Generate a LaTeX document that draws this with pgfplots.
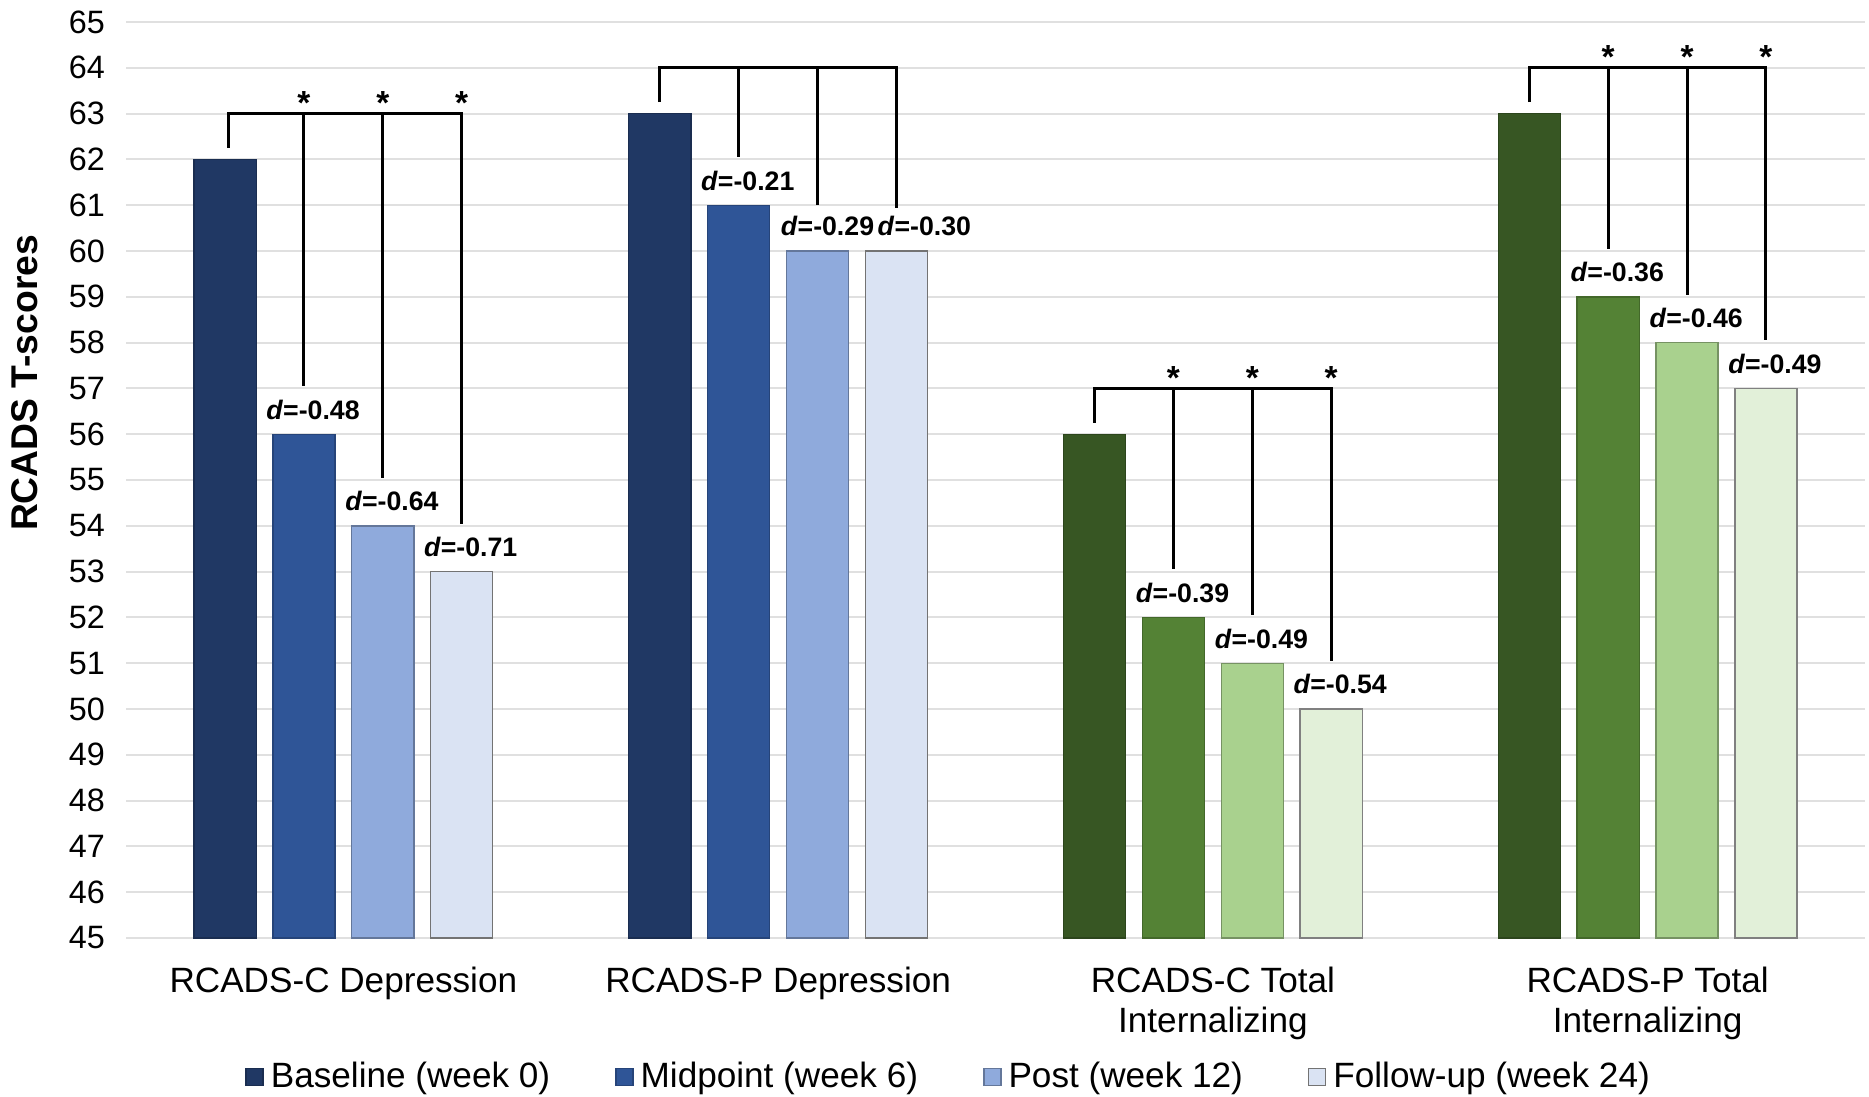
\documentclass[border=0pt]{standalone}
\usepackage{pgfplots}
\pgfplotsset{compat=1.18}
\usepackage{fontspec}
\setmainfont{Liberation Sans}
\definecolor{b1}{HTML}{203864}
\definecolor{b2}{HTML}{2F5597}
\definecolor{b3}{HTML}{8FAADC}
\definecolor{b4}{HTML}{DAE3F3}
\definecolor{g1}{HTML}{375623}
\definecolor{g2}{HTML}{548235}
\definecolor{g3}{HTML}{A9D18E}
\definecolor{g4}{HTML}{E2F0D9}
\tikzset{
  br/.style={line width=0.85pt, black},
  dl/.style={font=\bfseries\fontsize{7.6}{9}\selectfont, inner sep=0pt, anchor=base west},
  st/.style={font=\bfseries\fontsize{9.5}{11}\selectfont, inner sep=0pt, anchor=base},
}
\begin{document}
\begin{tikzpicture}
\useasboundingbox (-1.26cm,-1.58cm) rectangle (17.43cm,9.38cm);
\begin{axis}[
  width=17.39cm, height=9.16cm, scale only axis,
  xmin=-0.5, xmax=3.5, ymin=45, ymax=65,
  ytick={45,46,...,65},
  xtick={0,1,2,3},
  xticklabels={RCADS-C Depression, RCADS-P Depression, {RCADS-C Total\\Internalizing}, {RCADS-P Total\\Internalizing}},
  xticklabel style={align=center, font=\fontsize{10}{11.4}\selectfont, yshift=-4.7pt},
  yticklabel style={font=\fontsize{9.2}{11}\selectfont, xshift=-2.5pt},
  /pgf/number format/assume math mode=true,
  major tick length=0pt,
  axis lines*=left, axis line style={draw=none},
  ymajorgrids, grid style={color=black!12, line width=0.6pt},
  ylabel={\textbf{RCADS T-scores}},
  ylabel style={font=\fontsize{10.6}{13}\selectfont, at={(axis description cs:-0.058,0.606)}, anchor=center},
  legend columns=4,
  legend style={draw=none, fill=none, at={(0.4745,-0.152)}, anchor=center,
    font=\fontsize{10}{12}\selectfont,
    /tikz/every even column/.append style={column sep=0.58cm}},
  legend image code/.code={\draw[#1] (0cm,-0.085cm) rectangle (0.17cm,0.085cm);},
]
% blue series (groups 0 and 1)
\addplot[ybar, bar shift=0pt, bar width=0.143, fill=b1, draw=b1!80!black, line width=0.4pt]
  coordinates {(-0.272,62) (0.728,63)};
\addlegendentry{Baseline (week 0)}
\addplot[ybar, bar shift=0pt, bar width=0.143, fill=b2, draw=b2!80!black, line width=0.4pt]
  coordinates {(-0.0907,56) (0.9093,61)};
\addlegendentry{Midpoint (week 6)}
\addplot[ybar, bar shift=0pt, bar width=0.143, fill=b3, draw=b3!70!black, line width=0.4pt]
  coordinates {(0.0907,54) (1.0907,60)};
\addlegendentry{Post (week 12)}
\addplot[ybar, bar shift=0pt, bar width=0.143, fill=b4, draw=black!55, line width=0.4pt]
  coordinates {(0.272,53) (1.272,60)};
\addlegendentry{Follow-up (week 24)}
% green series (groups 2 and 3)
\addplot[forget plot, ybar, bar shift=0pt, bar width=0.143, fill=g1, draw=g1!80!black, line width=0.4pt]
  coordinates {(1.728,56) (2.728,63)};
\addplot[forget plot, ybar, bar shift=0pt, bar width=0.143, fill=g2, draw=g2!80!black, line width=0.4pt]
  coordinates {(1.9093,52) (2.9093,59)};
\addplot[forget plot, ybar, bar shift=0pt, bar width=0.143, fill=g3, draw=g3!70!black, line width=0.4pt]
  coordinates {(2.0907,51) (3.0907,58)};
\addplot[forget plot, ybar, bar shift=0pt, bar width=0.143, fill=g4, draw=black!50, line width=0.4pt]
  coordinates {(2.272,50) (3.272,57)};

% brackets group 0
\draw[br] (axis cs:-0.265,62.25) |- (axis cs:0.272,63) -- (axis cs:0.272,54.05);
\draw[br] (axis cs:-0.0907,63) -- (axis cs:-0.0907,57.05);
\draw[br] (axis cs:0.0907,63) -- (axis cs:0.0907,55.05);
\node[st] at (axis cs:-0.0907,62.98) {*};
\node[st] at (axis cs:0.0907,62.98) {*};
\node[st] at (axis cs:0.272,62.98) {*};
% brackets group 1
\draw[br] (axis cs:0.728,63.25) |- (axis cs:1.272,64) -- (axis cs:1.272,60.95);
\draw[br] (axis cs:0.9093,64) -- (axis cs:0.9093,62.05);
\draw[br] (axis cs:1.0907,64) -- (axis cs:1.0907,61.0);
% brackets group 2
\draw[br] (axis cs:1.728,56.25) |- (axis cs:2.272,57) -- (axis cs:2.272,51.05);
\draw[br] (axis cs:1.9093,57) -- (axis cs:1.9093,53.05);
\draw[br] (axis cs:2.0907,57) -- (axis cs:2.0907,52.05);
\node[st] at (axis cs:1.9093,56.98) {*};
\node[st] at (axis cs:2.0907,56.98) {*};
\node[st] at (axis cs:2.272,56.98) {*};
% brackets group 3
\draw[br] (axis cs:2.728,63.25) |- (axis cs:3.272,64) -- (axis cs:3.272,58.05);
\draw[br] (axis cs:2.9093,64) -- (axis cs:2.9093,60.05);
\draw[br] (axis cs:3.0907,64) -- (axis cs:3.0907,59.05);
\node[st] at (axis cs:2.9093,63.98) {*};
\node[st] at (axis cs:3.0907,63.98) {*};
\node[st] at (axis cs:3.272,63.98) {*};

% effect size labels
\node[dl] at (axis cs:-0.1787,56.33) {\textit{d}=-0.48};
\node[dl] at (axis cs:0.0027,54.33) {\textit{d}=-0.64};
\node[dl] at (axis cs:0.184,53.33) {\textit{d}=-0.71};
\node[dl] at (axis cs:0.8213,61.33) {\textit{d}=-0.21};
\node[dl] at (axis cs:1.0047,60.33) {\textit{d}=-0.29};
\node[dl] at (axis cs:1.2275,60.33) {\textit{d}=-0.30};
\node[dl] at (axis cs:1.8213,52.33) {\textit{d}=-0.39};
\node[dl] at (axis cs:2.0027,51.33) {\textit{d}=-0.49};
\node[dl] at (axis cs:2.184,50.33) {\textit{d}=-0.54};
\node[dl] at (axis cs:2.8213,59.33) {\textit{d}=-0.36};
\node[dl] at (axis cs:3.0027,58.33) {\textit{d}=-0.46};
\node[dl] at (axis cs:3.184,57.33) {\textit{d}=-0.49};
\end{axis}
\end{tikzpicture}
\end{document}
